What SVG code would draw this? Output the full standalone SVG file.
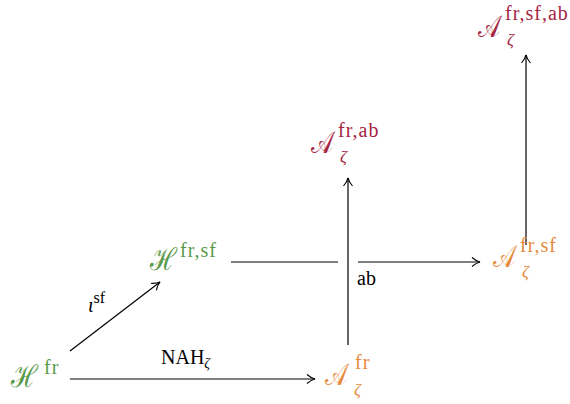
<svg xmlns="http://www.w3.org/2000/svg" width="570" height="404" viewBox="0 0 570 404">
<defs>
<marker id="ah" viewBox="0 0 12 12" refX="10" refY="6" markerWidth="12" markerHeight="12" markerUnits="userSpaceOnUse" orient="auto">
<path d="M2,1.5 Q6,5 10,6 Q6,7 2,10.5" fill="none" stroke="#000" stroke-width="1.1"/>
</marker>
</defs>
<style>
text{font-family:"Liberation Serif","DejaVu Serif",serif;}
.cal{font-size:31px;}
.sup{font-size:20px;letter-spacing:1px;}
.sub{font-size:17px;font-style:italic;}
.lbl{font-size:20px;fill:#000;}
.g{fill:#5a9a4c;}
.r{fill:#a52442;}
.o{fill:#e58a3a;}
.e{stroke:#000;stroke-width:1.2;fill:none;}
</style>
<g id="connectors">
<line class="e" x1="70" y1="379" x2="315" y2="379" marker-end="url(#ah)"/>
<line class="e" x1="70" y1="351" x2="160" y2="282" marker-end="url(#ah)"/>
<line class="e" x1="231" y1="262" x2="338" y2="262"/>
<line class="e" x1="358" y1="262" x2="480" y2="262" marker-end="url(#ah)"/>
<line class="e" x1="348" y1="345" x2="348" y2="178" marker-end="url(#ah)"/>
<line class="e" x1="526" y1="245" x2="526" y2="55" marker-end="url(#ah)"/>
<text class="lbl" x="161" y="364">NAH<tspan font-size="14" font-style="italic" dy="4">ζ</tspan></text>
<text class="lbl" x="88" y="312" font-style="italic">ι<tspan font-style="normal" font-size="16" dy="-9">sf</tspan></text>
<text class="lbl" x="357" y="285" font-size="17">ab</text>
</g>
<g id="H-fr"><text class="g cal" x="11" y="387" textLength="27" lengthAdjust="spacingAndGlyphs">ℋ</text><text class="g sup" x="44" y="374">fr</text></g>
<g id="H-fr-sf"><text class="g cal" x="150" y="270" textLength="27" lengthAdjust="spacingAndGlyphs">ℋ</text><text class="g sup" x="180" y="257">fr,sf</text></g>
<g id="A-fr"><text class="o cal" x="325" y="385" textLength="22" lengthAdjust="spacingAndGlyphs">𝒜</text><text class="o sup" x="355" y="369">fr</text><text class="o sub" x="354" y="395">ζ</text></g>
<g id="A-fr-sf"><text class="o cal" x="493" y="267" textLength="22" lengthAdjust="spacingAndGlyphs">𝒜</text><text class="o sup" x="520" y="252">fr,sf</text><text class="o sub" x="522" y="277">ζ</text></g>
<g id="A-fr-ab"><text class="r cal" x="311" y="153" textLength="22" lengthAdjust="spacingAndGlyphs">𝒜</text><text class="r sup" x="338" y="137">fr,ab</text><text class="r sub" x="340" y="162">ζ</text></g>
<g id="A-fr-sf-ab"><text class="r cal" x="478" y="37" textLength="22" lengthAdjust="spacingAndGlyphs">𝒜</text><text class="r sup" x="505" y="20">fr,sf,ab</text><text class="r sub" x="507" y="45">ζ</text></g>
</svg>
